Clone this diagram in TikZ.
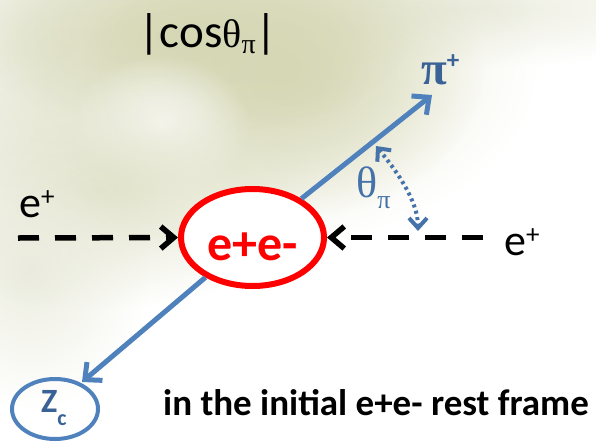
\documentclass[tikz,border=0pt]{standalone}
\usepackage{fontspec}
\setmainfont{Carlito}
\newfontfamily\serif{Liberation Serif}
\usetikzlibrary{arrows.meta,shapes.geometric,fadings}
\definecolor{eered}{RGB}{255,0,0}
\definecolor{bline}{RGB}{79,129,189}
\definecolor{btext}{RGB}{58,98,150}
\definecolor{thcol}{RGB}{70,114,170}
\definecolor{bgA}{RGB}{214,215,180}
\definecolor{bgB}{RGB}{225,226,202}
\definecolor{bgC}{RGB}{235,236,222}
\tikzfading[name=fuzzy, inner color=transparent!0, outer color=transparent!100]
\begin{document}
\begin{tikzpicture}[x=1pt,y=-1pt,
  lbl/.style={inner sep=0pt, anchor=base west},
  blob/.style={path fading=fuzzy},
  dasharrow/.style={black, line width=5.5pt, dash pattern=on 21pt off 16pt,
    -{Straight Barb[length=13pt,width=22pt]}},
  bluearrow/.style={bline, line width=5pt, -{Straight Barb[length=13pt,width=24pt]}},
  anglearc/.style={thcol, line width=4pt, dash pattern=on 3pt off 3.5pt,
    {Straight Barb[length=10pt,width=18pt]}-{Straight Barb[length=10pt,width=18pt]}},
  eeellipse/.style={draw=eered, line width=6pt, ellipse, fill=white, inner sep=0pt,
    minimum width=143pt, minimum height=97pt},
  zcellipse/.style={draw=bline, line width=4pt, ellipse, inner sep=0pt,
    minimum width=86pt, minimum height=60pt}]
\useasboundingbox (0,0) rectangle (596,442);
% background haze
\begin{scope}
\clip (0,0) rectangle (596,442);
\fill[bgC, blob] (470,8) ellipse (260 and 60);
\fill[bgC, blob] (60,50) ellipse (200 and 160);
\fill[bgB, blob] (220,65) ellipse (320 and 190);
\fill[bgA, blob] (285,70) ellipse (200 and 150);
\fill[bgA, blob] (190,35) ellipse (220 and 100);
\fill[white, blob] (160,125) ellipse (90 and 70);
\fill[bgB, blob] (100,190) ellipse (220 and 120);
\fill[bgC, blob] (30,270) ellipse (120 and 140);
\end{scope}
% nodes
\node[eeellipse] (ee) at (252.5,237.5) {};
\node[zcellipse] (zc) at (55,409) {};
\coordinate (pitip) at (432,95);
\coordinate (zctip) at (82,382);
\coordinate (lstart) at (18,238);
\coordinate (rstart) at (483,237.5);
\coordinate (arcA) at (376,146);
\coordinate (arcB) at (418,231);
% connectors
\draw[bluearrow] (ee) -- (pitip);
\draw[bluearrow] (ee) -- (zctip);
\draw[dasharrow] (lstart) -- (ee.west);
\draw[dasharrow] (rstart) -- (ee.east);
\draw[anglearc] (arcA) .. controls (395,169) and (418,200) .. (arcB);
% texts
\node[lbl, font=\fontsize{47}{52}\selectfont] (title) at (138,47)
  {|cos{\serif\fontsize{40}{44}\selectfont θ}\raisebox{-6pt}{\fontsize{28}{28}\selectfont\serif π}|};
\node[lbl, font=\fontsize{44}{50}\selectfont] (eL) at (19,217)
  {e\raisebox{12pt}{\fontsize{27}{27}\selectfont +}};
\node[lbl, font=\fontsize{44}{50}\selectfont] (eR) at (504,255)
  {e\raisebox{12pt}{\fontsize{27}{27}\selectfont +}};
\node[inner sep=0pt, anchor=base, text=eered, font=\bfseries\fontsize{50}{56}\selectfont]
  (eetext) at (252.5,260) {e+e-};
\node[lbl, text=thcol, font=\serif\fontsize{44}{50}\selectfont] (theta) at (356,197)
  {θ\raisebox{-11pt}{\fontsize{26}{26}\selectfont π}};
\node[lbl, text=btext, font=\serif\bfseries\fontsize{47}{52}\selectfont] (pi) at (421,84)
  {π\raisebox{16pt}{\rmfamily\bfseries\fontsize{25}{25}\selectfont +}};
\node[lbl, text=btext, font=\bfseries\fontsize{34}{38}\selectfont] (zct) at (41,412)
  {Z\raisebox{-13pt}{\fontsize{22}{22}\selectfont c}};
\node[lbl, font=\bfseries\fontsize{37}{42}\selectfont] (frame) at (163,415)
  {in the initial e+e- rest frame};
\end{tikzpicture}
\end{document}
